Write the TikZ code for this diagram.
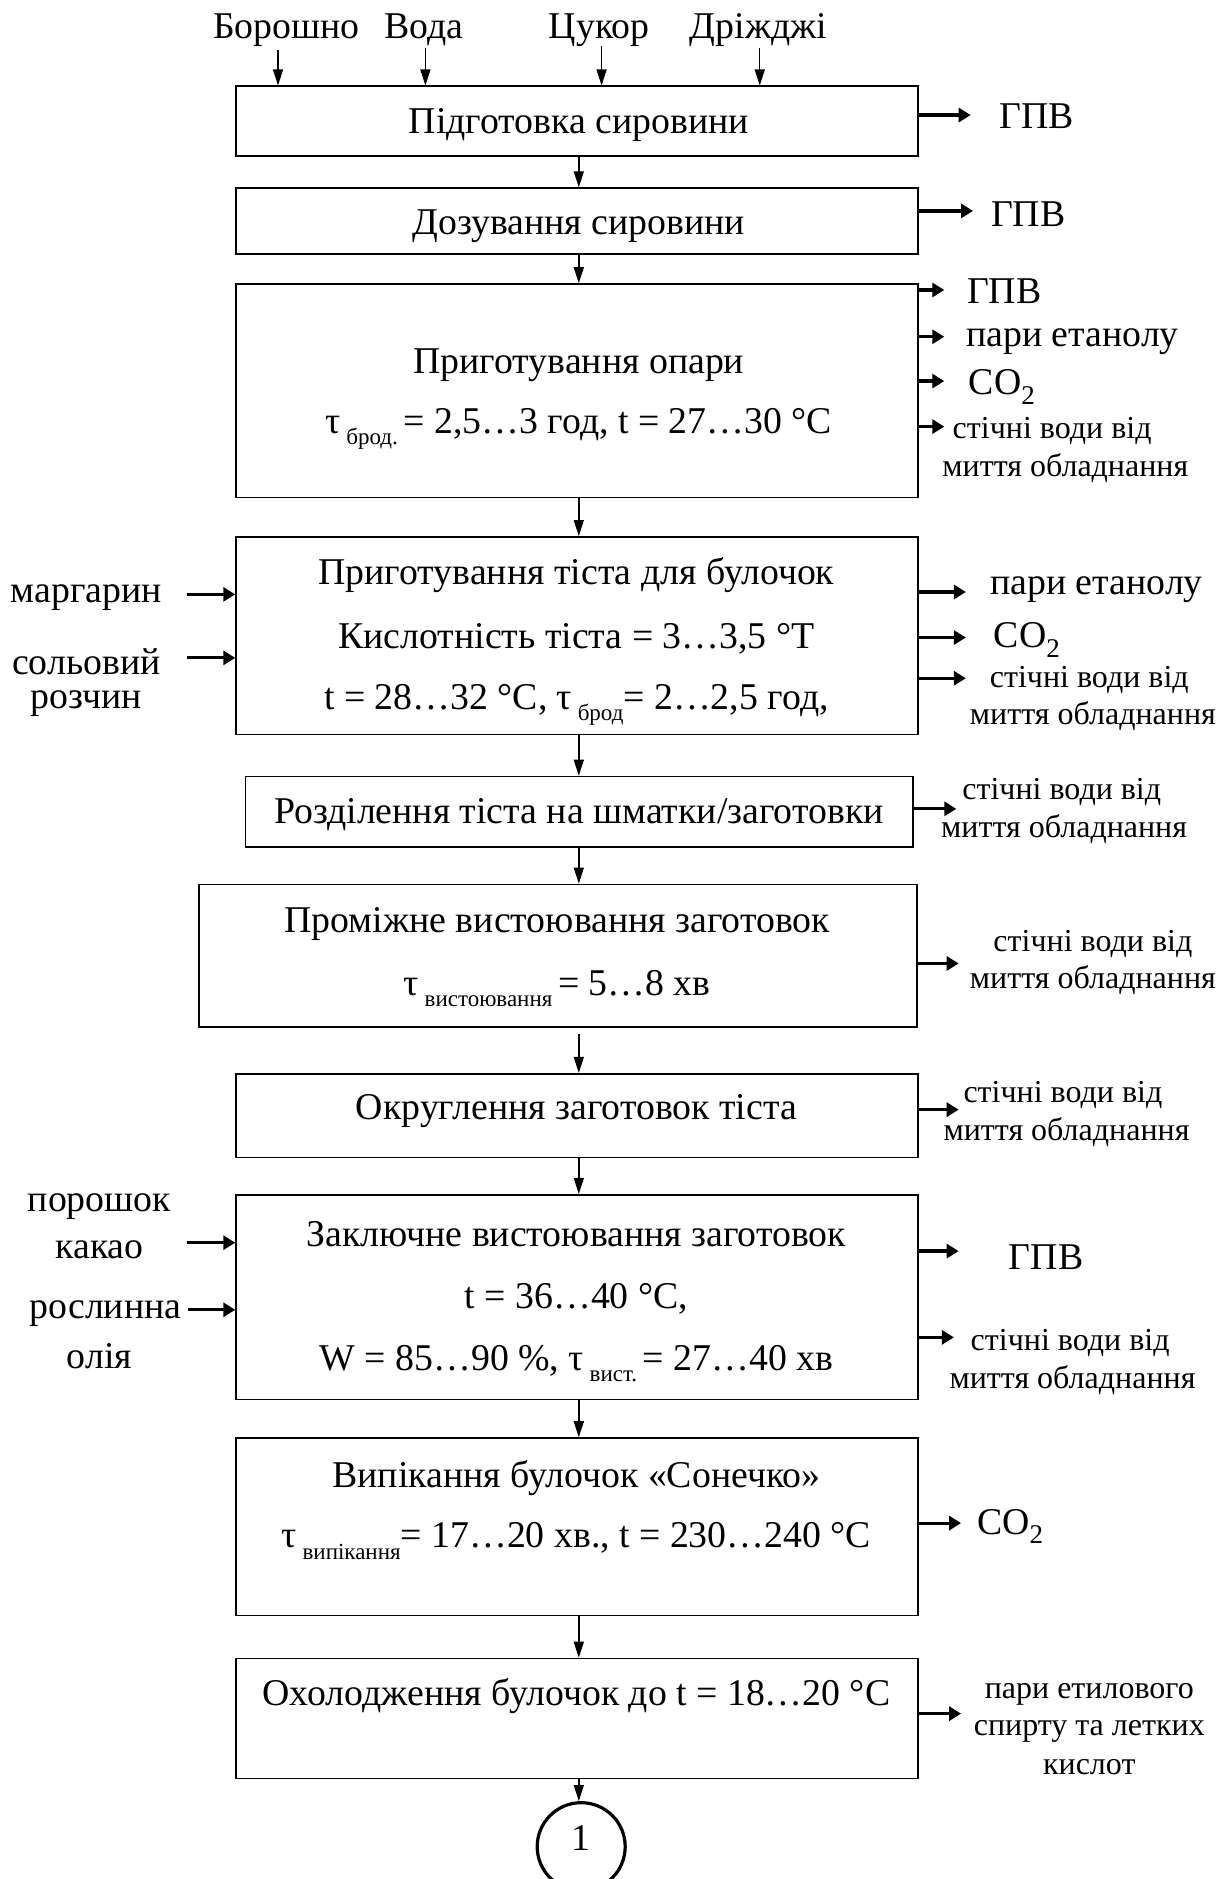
\documentclass[tikz,border=0pt]{standalone}
\usepackage{fontspec}
\setmainfont{Liberation Serif}
\usetikzlibrary{arrows.meta,fit,calc}
\newcommand\mainsz{\fontsize{18.9}{22}\selectfont}
\newcommand\smsz{\fontsize{16}{18}\selectfont}
\newcommand\lowsub[1]{\raisebox{-0.3em}{\fontsize{11.5}{12}\selectfont #1}}
\newcommand\cotwo{CO\raisebox{-0.25em}{\fontsize{13.5}{14}\selectfont 2}}
\newcommand\ssp{\hspace{0.15em}}
\tikzset{
  box/.style={draw, line width=0.8pt, inner sep=0pt},
  txt/.style={font=\mainsz, inner sep=0pt, yshift=-1.8pt},
  sm/.style={font=\smsz, inner sep=0pt, yshift=-1.5pt},
  flow/.style={-{Triangle[length=8pt,width=5pt]}, line width=0.7pt},
  outarr/.style={-{Triangle[length=6pt,width=7pt]}, line width=1.6pt},
}
\begin{document}
\begin{tikzpicture}[x=0.5992pt,y=-0.5992pt]
\useasboundingbox (0,0) rectangle (1028,1568);
% boxes
\node[box, fit={(197,72)(766,130)}] (b1) {};
\node[box, fit={(197,157)(766,212)}] (b2) {};
\node[box, fit={(197,237)(766,415)}] (b3) {};
\node[box, fit={(197,448)(766,613)}] (b4) {};
\node[box, fit={(205,648)(762,707)}] (b5) {};
\node[box, fit={(166,738)(765,857)}] (b6) {};
\node[box, fit={(197,896)(766,966)}] (b7) {};
\node[box, fit={(197,997)(766,1168)}] (b8) {};
\node[box, fit={(197,1200)(766,1348)}] (b9) {};
\node[box, fit={(197,1384)(766,1484)}] (b10) {};
\node[draw, circle, line width=1.6pt, minimum size=44pt, inner sep=0pt] (c1) at (485,1541) {};
\node[txt] (c1t) at (485,1531) {1};
% box texts
\node[txt] (t1) at (483,101) {Підготовка сировини};
\node[txt] (t2) at (483,186) {Дозування сировини};
\node[txt] (t3a) at (483,302) {Приготування опари};
\node[txt] (t3b) at (483,355) {τ\ssp\lowsub{брод.}\ssp= 2,5…3 год, t = 27…30 °C};
\node[txt] (t4a) at (481,477) {Приготування тіста для булочок};
\node[txt] (t4b) at (481,530) {Кислотність тіста = 3…3,5 °T};
\node[txt] (t4c) at (481,585) {t = 28…32 °C, τ\ssp\lowsub{брод}= 2…2,5 год,};
\node[txt] (t5) at (483,677) {Розділення тіста на шматки/заготовки};
\node[txt] (t6a) at (465,768) {Проміжне вистоювання заготовок};
\node[txt] (t6b) at (465,822) {τ\ssp\lowsub{вистоювання}\ssp= 5…8 хв};
\node[txt] (t7) at (481,924) {Округлення заготовок тіста};
\node[txt] (t8a) at (481,1027) {Заключне вистоювання заготовок};
\node[txt] (t8b) at (481,1081) {t = 36…40 °C,};
\node[txt] (t8c) at (481,1135) {W = 85…90 \%, τ\ssp\lowsub{вист.}\ssp= 27…40 хв};
\node[txt] (t9a) at (481,1230) {Випікання булочок «Сонечко»};
\node[txt] (t9b) at (481,1283) {τ\ssp\lowsub{випікання}= 17…20 хв., t = 230…240 °C};
\node[txt] (t10) at (481,1412) {Охолодження булочок до t = 18…20 °C};
% top inputs
\node[txt] (iBt) at (239,22) {Борошно};
\node[txt] (iVt) at (354,22) {Вода};
\node[txt] (iCt) at (500,22) {Цукор};
\node[txt] (iDt) at (633,22) {Дріжджі};
\coordinate (iB) at (232,42);
\coordinate (iV) at (355,40);
\coordinate (iC) at (502,38);
\coordinate (iD) at (634,40);
\foreach \c in {iB,iV,iC,iD} \draw[flow] (\c) -- (\c |- b1.north);
% main flow
\coordinate (ax) at (483,0);
\draw[flow] (b1.south -| ax) -- (b2.north -| ax);
\draw[flow] (b2.south -| ax) -- (b3.north -| ax);
\draw[flow] (b3.south -| ax) -- (b4.north -| ax);
\draw[flow] (b4.south -| ax) -- (b5.north -| ax);
\draw[flow] (b5.south -| ax) -- (b6.north -| ax);
\draw[flow] ($(b6.south -| ax)+(0,5)$) -- (b7.north -| ax);
\draw[flow] (b7.south -| ax) -- (b8.north -| ax);
\draw[flow] (b8.south -| ax) -- (b9.north -| ax);
\draw[flow] (b9.south -| ax) -- (b10.north -| ax);
\draw[flow] (b10.south -| ax) -- (c1.north -| ax);
% left inputs
\node[txt] (l1) at (72,496) {маргарин};
\node[txt] (l2a) at (72,549) {сольовий};
\node[txt] (l2b) at (72,584) {розчин};
\node[txt] (l3a) at (83,1004) {порошок};
\node[txt] (l3b) at (83,1040) {какао};
\node[txt] (l4a) at (88,1093) {рослинна};
\node[txt] (l4b) at (83,1129) {олія};
\coordinate (m1) at (156,496);
\coordinate (m2) at (156,549);
\coordinate (m3) at (156,1037);
\coordinate (m4) at (157,1093);
\draw[outarr] (m1) -- (m1 -| b4.west);
\draw[outarr] (m2) -- (m2 -| b4.west);
\draw[outarr] (m3) -- (m3 -| b8.west);
\draw[outarr] (m4) -- (m4 -| b8.west);
% right outputs
\coordinate (o1) at (810,96);
\draw[outarr] (o1 -| b1.east) -- (o1);
\node[txt] (o1t) at (865,94) {ГПВ};
\coordinate (o2) at (812,176);
\draw[outarr] (o2 -| b2.east) -- (o2);
\node[txt] (o2t) at (858,176) {ГПВ};
\coordinate (o3a) at (788,242);
\coordinate (o3b) at (788,281);
\coordinate (o3c) at (788,318);
\coordinate (o3d) at (788,356);
\foreach \c in {o3a,o3b,o3c,o3d} \draw[outarr] (\c -| b3.east) -- (\c);
\node[txt] (o3at) at (838,240) {ГПВ};
\node[txt] (o3bt) at (895,282) {пари етанолу};
\node[txt] (o3ct) at (836,320) {\cotwo};
\node[sm] (o3dt) at (878,357) {стічні води від};
\node[sm] (o3et) at (889,388) {миття обладнання};
\coordinate (o4a) at (806,494);
\coordinate (o4b) at (806,532);
\coordinate (o4c) at (806,566);
\foreach \c in {o4a,o4b,o4c} \draw[outarr] (\c -| b4.east) -- (\c);
\node[txt] (o4at) at (915,489) {пари етанолу};
\node[txt] (o4bt) at (857,531) {\cotwo};
\node[sm] (o4ct) at (909,565) {стічні води від};
\node[sm] (o4dt) at (912,595) {миття обладнання};
\coordinate (o5) at (798,675);
\draw[outarr] (o5 -| b5.east) -- (o5);
\node[sm] (o5t) at (886,658) {стічні води від};
\node[sm] (o5u) at (888,689) {миття обладнання};
\coordinate (o6) at (800,804);
\draw[outarr] (o6 -| b6.east) -- (o6);
\node[sm] (o6t) at (912,785) {стічні води від};
\node[sm] (o6u) at (912,815) {миття обладнання};
\coordinate (o7) at (800,926);
\draw[outarr] (o7 -| b7.east) -- (o7);
\node[sm] (o7t) at (887,911) {стічні води від};
\node[sm] (o7u) at (890,942) {миття обладнання};
\coordinate (o8a) at (800,1044);
\coordinate (o8b) at (796,1116);
\draw[outarr] (o8a -| b8.east) -- (o8a);
\draw[outarr] (o8b -| b8.east) -- (o8b);
\node[txt] (o8at) at (873,1046) {ГПВ};
\node[sm] (o8bt) at (893,1118) {стічні води від};
\node[sm] (o8bu) at (895,1149) {миття обладнання};
\coordinate (o9) at (802,1271);
\draw[outarr] (o9 -| b9.east) -- (o9);
\node[txt] (o9t) at (843,1271) {\cotwo};
\coordinate (o10) at (802,1430);
\draw[outarr] (o10 -| b10.east) -- (o10);
\node[sm] (o10a) at (909,1411) {пари етилового};
\node[sm] (o10b) at (909,1442) {спирту та летких};
\node[sm] (o10c) at (909,1472) {кислот};
\end{tikzpicture}
\end{document}
